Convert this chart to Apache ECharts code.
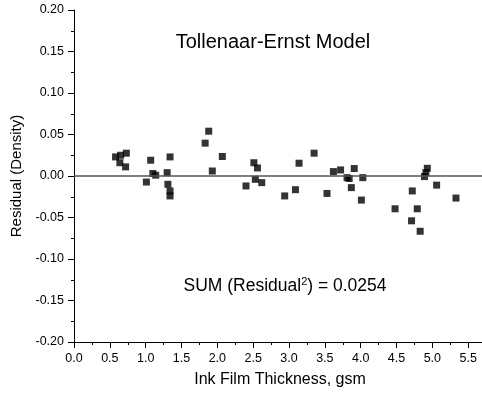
<!DOCTYPE html>
<html>
<head>
<meta charset="utf-8">
<script src="https://cdn.jsdelivr.net/npm/echarts@6/dist/echarts.min.js"></script>
<style>
html,body{margin:0;padding:0;background:#fff;overflow:hidden;}
#chart{width:482px;height:402px;}
</style>
</head>
<body>
<div id="chart"></div>
<script>
const xVals = [0.58,0.65,0.73,0.64,0.72, 1.07,1.01,1.10,1.14, 1.34,1.30,1.31,1.34,1.34, 1.83,1.88,1.93,2.07, 2.51,2.56,2.53,2.62,2.40, 2.94,3.09,3.14,3.35, 3.53,3.62,3.72,3.81,3.84, 3.91,3.87,4.01,4.03, 4.48,4.72,4.79,4.71,4.83, 4.93,4.91,4.89,5.06,5.33];
const yVals = [0.023,0.025,0.0275,0.016,0.011, 0.019,-0.0073,0.003,0.001, 0.023,0.004,-0.010,-0.018,-0.024, 0.0396,0.054,0.006,0.0235, 0.016,0.0097,-0.004,-0.008,-0.012, -0.024,-0.0165,0.0154,0.0275, -0.021,0.0053,0.0073,-0.002,-0.003, 0.009,-0.014,-0.029,-0.002, -0.0395,-0.018,-0.0395,-0.054,-0.0666, 0.0093,0.004,-0.0007,-0.011,-0.0266];
const titleText = 'Tollenaar-Ernst Model';
const xAxisTitle = 'Ink Film Thickness, gsm';
const yAxisTitle = 'Residual (Density)';
const sumLabel = ['SUM (Residual', '2', ') = 0.0254'];

const FONT = 'Liberation Sans, Arial, Helvetica, sans-serif';
const points = xVals.map((x, i) => [x, yVals[i]]);

const chart = echarts.init(document.getElementById('chart'), null, {renderer: 'canvas'});
chart.setOption({
  animation: false,
  backgroundColor: '#fff',
  grid: {left: 74, right: -22, top: 10, bottom: 60, containLabel: false, outerBoundsMode: 'none'},
  xAxis: {
    type: 'value', min: 0, max: 6, interval: 0.5,
    name: xAxisTitle, nameLocation: 'middle', nameGap: 30,
    nameTextStyle: {fontFamily: FONT, fontSize: 16, color: '#000',
      padding: [0, 18, 0, 0]},
    axisLine: {show: true, onZero: false, lineStyle: {color: '#000', width: 1}},
    axisTick: {show: true, inside: false, length: 6, lineStyle: {color: '#000'}},
    minorTick: {show: true, splitNumber: 2, length: 3, lineStyle: {color: '#000'}},
    splitLine: {show: false},
    axisLabel: {fontFamily: FONT, fontSize: 12.5, color: '#000', margin: 10,
      formatter: v => v.toFixed(1)}
  },
  yAxis: {
    type: 'value', min: -0.2, max: 0.2, interval: 0.05,
    name: yAxisTitle, nameLocation: 'middle', nameGap: 48, nameRotate: 90,
    nameTextStyle: {fontFamily: FONT, fontSize: 15, color: '#000'},
    axisLine: {show: true, onZero: false, lineStyle: {color: '#000', width: 1}},
    axisTick: {show: true, inside: false, length: 6, lineStyle: {color: '#000'}},
    minorTick: {show: true, splitNumber: 2, length: 3, lineStyle: {color: '#000'}},
    splitLine: {show: false},
    axisLabel: {fontFamily: FONT, fontSize: 12.5, color: '#000', margin: 10,
      formatter: v => v.toFixed(2)}
  },
  series: [{
    type: 'scatter',
    data: points,
    symbol: 'rect',
    symbolSize: 7,
    itemStyle: {color: '#000'},
    markLine: {
      silent: true, symbol: 'none', animation: false,
      label: {show: false},
      lineStyle: {color: '#555', width: 1.5, type: 'solid'},
      data: [{yAxis: 0}]
    }
  }],
  graphic: [
    {type: 'text', x: 273, y: 42, z: 100,
      style: {text: titleText, font: '20px ' + FONT, fill: '#000',
        align: 'center', verticalAlign: 'middle', textAlign: 'center', textVerticalAlign: 'middle'}},
    {type: 'text', x: 285, y: 286, z: 100,
      style: {
        text: '{a|' + sumLabel[0] + '}{s|' + sumLabel[1] + '}{a|' + sumLabel[2] + '}',
        align: 'center', verticalAlign: 'middle', textAlign: 'center', textVerticalAlign: 'middle',
        fill: '#000',
        rich: {
          a: {fontFamily: FONT, fontSize: 17.5, color: '#000', lineHeight: 20},
          s: {fontFamily: FONT, fontSize: 11, color: '#000', verticalAlign: 'top', lineHeight: 20}
        }
      }}
  ]
});
</script>
</body>
</html>
